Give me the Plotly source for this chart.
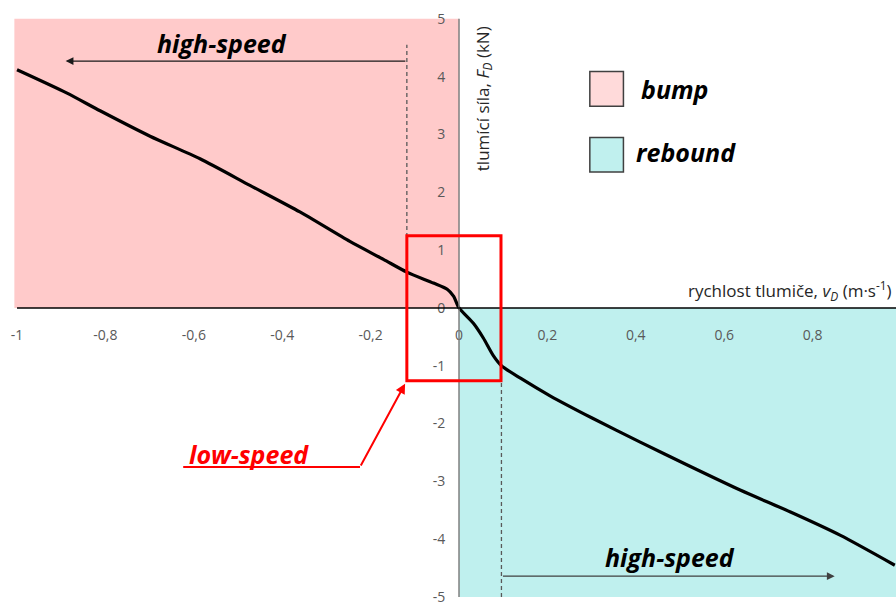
import plotly.graph_objects as go

# ---- data ----
velocity = [-1.0, -0.888, -0.812, -0.699, -0.586, -0.473, -0.360, -0.247, -0.171, -0.118,
            -0.058, -0.026, -0.012, 0.0, 0.033, 0.055, 0.078, 0.096, 0.140, 0.206,
            0.300, 0.410, 0.520, 0.636, 0.750, 0.862, 0.986]
force = [4.12, 3.72, 3.41, 2.97, 2.58, 2.12, 1.66, 1.15, 0.84, 0.62,
         0.43, 0.32, 0.20, 0.0, -0.27, -0.52, -0.83, -1.0, -1.22, -1.52,
         -1.90, -2.32, -2.73, -3.15, -3.53, -3.93, -4.45]

x_tickvals = [-1, -0.8, -0.6, -0.4, -0.2, 0, 0.2, 0.4, 0.6, 0.8]
x_ticktext = ["-1", "-0,8", "-0,6", "-0,4", "-0,2", "0", "0,2", "0,4", "0,6", "0,8"]
y_tickvals = [5, 4, 3, 2, 1, 0, -1, -2, -3, -4, -5]
y_ticktext = ["5", "4", "3", "2", "1", "0", "-1", "-2", "-3", "-4", "-5"]

low_high_limit_bump = -0.118
low_high_limit_rebound = 0.096

x_title = "rychlost tlumiče, <i>v</i><sub><i>D</i></sub> (m·s<sup>-1</sup>)"
y_title = "tlumící síla, <i>F</i><sub><i>D</i></sub> (kN)"

# ---- layout constants ----
XR = [-1.0385, 0.9887]
YR = [-5.086, 5.326]
PINK = "#ffcaca"
TEAL = "#bff0ee"
FONT = "Open Sans"

fig = go.Figure()

shapes = [
    dict(type="rect", xref="x", yref="y", x0=-1.006, x1=0, y0=0, y1=5,
         fillcolor=PINK, line=dict(width=0), layer="below"),
    dict(type="rect", xref="x", yref="y", x0=0, x1=XR[1], y0=-5, y1=0,
         fillcolor=TEAL, line=dict(width=0), layer="below"),
    dict(type="line", xref="x", yref="y", x0=0, x1=0, y0=-5, y1=5,
         line=dict(color="#7f7f7f", width=1.5)),
    dict(type="line", xref="x", yref="y", x0=-1, x1=XR[1], y0=0, y1=0,
         line=dict(color="#000000", width=1.5)),
    dict(type="line", xref="x", yref="y", x0=low_high_limit_bump, x1=low_high_limit_bump,
         y0=0.62, y1=4.55, line=dict(color="#595959", width=1.3, dash="4px,3px")),
    dict(type="line", xref="x", yref="y", x0=low_high_limit_rebound, x1=low_high_limit_rebound,
         y0=-5, y1=-1.0, line=dict(color="#595959", width=1.3, dash="4px,3px")),
    dict(type="rect", xref="x", yref="y", x0=low_high_limit_bump, x1=0.095, y0=-1.26, y1=1.25,
         line=dict(color="#ff0000", width=3), fillcolor="rgba(0,0,0,0)"),
    dict(type="line", xref="x", yref="y", x0=-0.624, x1=-0.224, y0=-2.75, y1=-2.75,
         line=dict(color="#ff0000", width=2)),
    dict(type="rect", xref="x", yref="y", x0=0.296, x1=0.372, y0=3.49, y1=4.09,
         fillcolor="#ffdada", line=dict(color="#404040", width=1.5)),
    dict(type="rect", xref="x", yref="y", x0=0.296, x1=0.372, y0=2.35, y1=2.95,
         fillcolor="#c0f0ee", line=dict(color="#404040", width=1.5)),
]

fig.add_trace(go.Scatter(x=velocity, y=force, mode="lines",
                         line=dict(color="black", width=3.2, shape="spline", smoothing=0.7),
                         hoverinfo="skip", showlegend=False))

bi = dict(family=FONT, size=25, color="black")
annotations = [
    dict(x=-0.89, y=4.27, ax=low_high_limit_bump, ay=4.27, xref="x", yref="y", axref="x", ayref="y",
         text="", showarrow=True, arrowhead=2, arrowsize=1.2, arrowwidth=1.3, arrowcolor="#1a1a1a"),
    dict(x=0.850, y=-4.64, ax=low_high_limit_rebound, ay=-4.64, xref="x", yref="y", axref="x", ayref="y",
         text="", showarrow=True, arrowhead=2, arrowsize=1.2, arrowwidth=1.3, arrowcolor="#404040"),
    dict(x=-0.122, y=-1.31, ax=-0.224, ay=-2.75, xref="x", yref="y", axref="x", ayref="y",
         text="", showarrow=True, arrowhead=2, arrowsize=1.0, arrowwidth=2, arrowcolor="#ff0000"),
    dict(x=-0.537, y=4.59, xref="x", yref="y", text="<b><i>high-speed</i></b>", showarrow=False,
         font=bi, xanchor="center", yanchor="middle"),
    dict(x=0.477, y=-4.30, xref="x", yref="y", text="<b><i>high-speed</i></b>", showarrow=False,
         font=bi, xanchor="center", yanchor="middle"),
    dict(x=-0.475, y=-2.53, xref="x", yref="y", text="<b><i>low-speed</i></b>", showarrow=False,
         font=dict(family=FONT, size=25, color="#ff0000"), xanchor="center", yanchor="middle"),
    dict(x=0.408, y=3.78, xref="x", yref="y", text="<b><i>bump</i></b>", showarrow=False,
         font=bi, xanchor="left", yanchor="middle"),
    dict(x=0.396, y=2.70, xref="x", yref="y", text="<b><i>rebound</i></b>", showarrow=False,
         font=bi, xanchor="left", yanchor="middle"),
    dict(x=0.984, y=0.31, xref="x", yref="y", text=x_title, showarrow=False,
         font=dict(family=FONT, size=17, color="#262626"), xanchor="right", yanchor="middle"),
    dict(x=0.054, y=3.625, xref="x", yref="y", text=y_title, showarrow=False, textangle=-90,
         font=dict(family=FONT, size=17, color="#262626"), xanchor="center", yanchor="middle"),
]

xpos = (0 - YR[0]) / (YR[1] - YR[0])
ypos = (0 - XR[0]) / (XR[1] - XR[0])

fig.update_layout(
    width=896, height=606,
    margin=dict(l=0, r=0, t=0, b=0),
    paper_bgcolor="white", plot_bgcolor="white",
    shapes=shapes, annotations=annotations,
    showlegend=False,
    xaxis=dict(range=XR, showgrid=False, zeroline=False, showline=False,
               anchor="free", position=xpos, tickvals=x_tickvals, ticktext=x_ticktext,
               ticks="outside", ticklen=14, tickcolor="rgba(0,0,0,0)",
               ticklabeloverflow="allow",
               tickfont=dict(family=FONT, size=14, color="#595959"), fixedrange=True),
    yaxis=dict(range=YR, showgrid=False, zeroline=False, showline=False,
               anchor="free", position=ypos, tickvals=y_tickvals, ticktext=y_ticktext,
               ticks="outside", ticklen=11, tickcolor="rgba(0,0,0,0)",
               ticklabeloverflow="allow",
               tickfont=dict(family=FONT, size=14, color="#595959"), fixedrange=True),
)

fig.write_html("out.html", config={"displayModeBar": False})
